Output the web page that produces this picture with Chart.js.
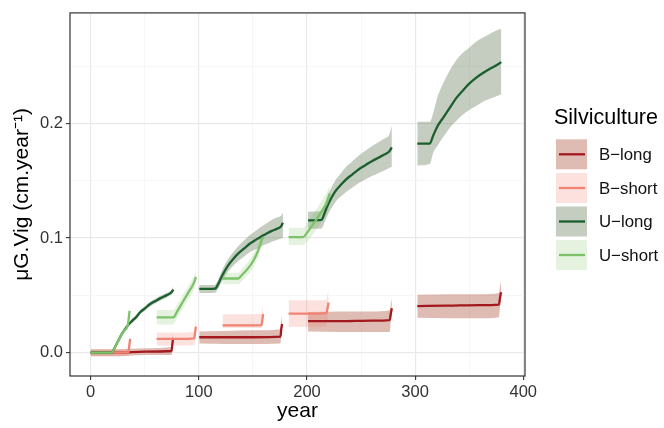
<!DOCTYPE html>
<html>
<head>
<meta charset="utf-8">
<script src="https://cdn.jsdelivr.net/npm/chart.js@4"></script>
<style>
html,body{margin:0;padding:0;background:#ffffff;}
#wrap{width:664px;height:428px;position:relative;}
canvas{display:block;}
</style>
</head>
<body>
<div id="wrap"><canvas id="c" width="664" height="428"></canvas></div>
<script>
// ---------------- DATA ----------------
const seriesNames = ['B\u2212long', 'B\u2212short', 'U\u2212long', 'U\u2212short'];

// B-long : null separates rotation segments
const bLongYear = [0, 25, 50, 74.8, 75.6, 76.3, null,
                   100.4, 125, 150, 175.5, 176.3, 177, null,
                   201, 230, 260, 276.5, 277.5, 278.5, null,
                   302, 330, 360, 377.5, 378.5, 379.5];
const bLongMid  = [0, 0, 0.001, 0.0015, 0.008, 0.013, null,
                   0.0135, 0.0135, 0.0135, 0.014, 0.021, 0.025, null,
                   0.0275, 0.0275, 0.028, 0.0285, 0.034, 0.0387, null,
                   0.0407, 0.041, 0.0415, 0.042, 0.048, 0.0528];
const bLongLo   = [-0.003, -0.003, -0.002, -0.002, 0.003, 0.008, null,
                   0.008, 0.0075, 0.0075, 0.008, 0.016, 0.020, null,
                   0.0185, 0.018, 0.018, 0.018, 0.027, 0.033, null,
                   0.0305, 0.030, 0.030, 0.031, 0.040, 0.046];
const bLongHi   = [0.003, 0.003, 0.004, 0.005, 0.013, 0.017, null,
                   0.0185, 0.019, 0.0195, 0.0205, 0.028, 0.033, null,
                   0.0355, 0.036, 0.036, 0.037, 0.043, 0.047, null,
                   0.0505, 0.051, 0.051, 0.052, 0.058, 0.0627];

// B-short
const bShortYear = [0, 20, 35, 35.8, 36.5, null,
                    61, 80, 95.8, 96.6, 97.3, null,
                    122, 140, 158, 158.8, 159.5, null,
                    183, 200, 218, 219, 220];
const bShortMid  = [0, 0, 0.0005, 0.007, 0.012, null,
                    0.012, 0.012, 0.0125, 0.018, 0.0227, null,
                    0.0238, 0.0238, 0.024, 0.029, 0.0337, null,
                    0.034, 0.034, 0.0345, 0.039, 0.0438];
const bShortLo   = [-0.003, -0.003, -0.003, 0.002, 0.007, null,
                    0.0063, 0.0063, 0.0065, 0.012, 0.017, null,
                    0.0215, 0.0215, 0.0215, 0.026, 0.030, null,
                    0.0224, 0.0224, 0.023, 0.028, 0.033];
const bShortHi   = [0.003, 0.003, 0.004, 0.012, 0.017, null,
                    0.0176, 0.0176, 0.018, 0.026, 0.0317, null,
                    0.0335, 0.0335, 0.034, 0.038, 0.043, null,
                    0.0458, 0.0458, 0.046, 0.051, 0.0556];

// U-long
const uLongYear = [0, 10, 19.5, 22, 25, 28, 31, 34.5, 38, 42, 46, 50, 55, 60, 65, 70, 74.5, 76.5, null,
                   100.4, 108, 115, 118, 122, 127, 132, 137, 142, 147, 152, 157, 162, 167, 172, 176, 177.8, null,
                   201, 213.5, 216, 218, 222, 226, 231, 236, 242, 248, 254, 260, 266, 272, 276, 278.5, null,
                   302, 313.5, 317, 321, 326, 332, 338, 344, 350, 356, 362, 368, 374, 379.7];
const uLongMid  = [0, 0, 0, 0.004, 0.0095, 0.015, 0.0195, 0.024, 0.0275, 0.031, 0.0355, 0.0385, 0.0425, 0.0452, 0.0478, 0.050, 0.0525, 0.055, null,
                   0.0556, 0.0556, 0.0558, 0.060, 0.068, 0.076, 0.082, 0.087, 0.091, 0.095, 0.098, 0.101, 0.1035, 0.106, 0.108, 0.110, 0.1134, null,
                   0.1154, 0.1158, 0.121, 0.126, 0.134, 0.1405, 0.146, 0.151, 0.1555, 0.160, 0.1635, 0.167, 0.170, 0.173, 0.1755, 0.179, null,
                   0.1824, 0.1824, 0.190, 0.198, 0.205, 0.2135, 0.222, 0.2285, 0.2346, 0.2395, 0.2435, 0.247, 0.250, 0.2534];
const uLongLo   = [0, 0, 0, 0.004, 0.0095, 0.015, 0.0195, 0.023, 0.0255, 0.029, 0.0335, 0.0365, 0.0405, 0.0432, 0.0458, 0.048, 0.0505, 0.052, null,
                   0.0521, 0.0521, 0.0523, 0.056, 0.063, 0.0705, 0.076, 0.0805, 0.084, 0.0875, 0.090, 0.0925, 0.0945, 0.0965, 0.0982, 0.0995, 0.100, null,
                   0.108, 0.1083, 0.113, 0.1175, 0.125, 0.131, 0.136, 0.140, 0.144, 0.148, 0.151, 0.154, 0.1565, 0.159, 0.161, 0.162, null,
                   0.1633, 0.1645, 0.175, 0.181, 0.188, 0.196, 0.202, 0.2075, 0.2117, 0.215, 0.2185, 0.221, 0.2232, 0.2253];
const uLongHi   = [0, 0, 0, 0.004, 0.0095, 0.015, 0.0195, 0.025, 0.0295, 0.033, 0.0375, 0.0405, 0.0445, 0.0472, 0.0498, 0.052, 0.0545, 0.058, null,
                   0.0591, 0.0591, 0.0593, 0.064, 0.073, 0.0815, 0.088, 0.0935, 0.098, 0.1025, 0.106, 0.1095, 0.1125, 0.1155, 0.1178, 0.1195, 0.122, null,
                   0.123, 0.1233, 0.129, 0.1345, 0.143, 0.150, 0.156, 0.162, 0.167, 0.172, 0.176, 0.180, 0.1835, 0.187, 0.190, 0.198, null,
                   0.2013, 0.2013, 0.210, 0.224, 0.235, 0.246, 0.255, 0.2615, 0.266, 0.271, 0.2745, 0.2775, 0.2805, 0.2825];

// U-short
const uShortYear = [0, 10, 19.5, 22, 25, 28, 31, 34.5, 35.3, 36, null,
                    61, 76.5, 80, 85, 90, 95, 96.5, 97.3, null,
                    122, 136.5, 140, 145, 149, 153, 156, 158, 159.5, null,
                    183, 196.5, 200, 205, 210, 215, 219, 221];
const uShortMid  = [0, 0, 0, 0.004, 0.0095, 0.015, 0.0195, 0.0245, 0.031, 0.0365, null,
                    0.0309, 0.0309, 0.036, 0.044, 0.052, 0.060, 0.0635, 0.066, null,
                    0.0647, 0.0647, 0.068, 0.073, 0.078, 0.085, 0.092, 0.098, 0.1008, null,
                    0.1008, 0.1008, 0.1045, 0.111, 0.118, 0.1255, 0.132, 0.1388];
const uShortLo   = [-0.002, -0.002, -0.002, 0.002, 0.0075, 0.013, 0.0175, 0.0225, 0.026, 0.031, null,
                    0.0247, 0.0247, 0.030, 0.038, 0.046, 0.054, 0.0575, 0.060, null,
                    0.0597, 0.0597, 0.0625, 0.0675, 0.072, 0.079, 0.086, 0.092, 0.095, null,
                    0.094, 0.094, 0.097, 0.1025, 0.109, 0.1165, 0.123, 0.130];
const uShortHi   = [0.002, 0.002, 0.002, 0.006, 0.0115, 0.017, 0.0215, 0.0265, 0.035, 0.040, null,
                    0.0373, 0.0373, 0.042, 0.050, 0.058, 0.066, 0.0695, 0.0725, null,
                    0.0697, 0.0697, 0.0735, 0.0785, 0.084, 0.091, 0.098, 0.104, 0.106, null,
                    0.109, 0.109, 0.113, 0.120, 0.127, 0.1345, 0.141, 0.146];

const xTickValues = [0, 50, 100, 150, 200, 250, 300, 350, 400];
const yTickValues = [0, 0.05, 0.1, 0.15, 0.2, 0.25];

// ---------------- STYLE ----------------
const FONT = "'Liberation Sans', Arial, Helvetica, sans-serif";
const lineColors   = ['#a3191f', '#f08373', '#1c5f2e', '#7cc26a'];
const ribbonColors = ['rgba(165,70,45,0.36)', 'rgba(240,110,95,0.2)', 'rgba(70,100,60,0.32)', 'rgba(120,190,95,0.2)'];

const seriesData = [
  {year: bLongYear,  mid: bLongMid,  lo: bLongLo,  hi: bLongHi},
  {year: bShortYear, mid: bShortMid, lo: bShortLo, hi: bShortHi},
  {year: uLongYear,  mid: uLongMid,  lo: uLongLo,  hi: uLongHi},
  {year: uShortYear, mid: uShortMid, lo: uShortLo, hi: uShortHi}
];

function splitSegments(s) {
  const segs = [];
  let cur = null;
  s.year.forEach((yr, i) => {
    if (yr === null) { cur = null; return; }
    if (!cur) { cur = {mid: [], lo: [], hi: []}; segs.push(cur); }
    cur.mid.push({x: yr, y: s.mid[i]});
    cur.lo.push({x: yr, y: s.lo[i]});
    cur.hi.push({x: yr, y: s.hi[i]});
  });
  return segs;
}

const datasets = [];
// ribbons first
seriesData.forEach((s, si) => {
  splitSegments(s).forEach(seg => {
    datasets.push({
      data: seg.lo, borderWidth: 0, borderColor: 'rgba(0,0,0,0)', pointRadius: 0,
      fill: false, cubicInterpolationMode: 'monotone', order: 100 - si * 10
    });
    datasets.push({
      data: seg.hi, borderWidth: 0, borderColor: 'rgba(0,0,0,0)', pointRadius: 0,
      fill: '-1', backgroundColor: ribbonColors[si], cubicInterpolationMode: 'monotone', order: 100 - si * 10
    });
  });
});
// lines
seriesData.forEach((s, si) => {
  splitSegments(s).forEach(seg => {
    datasets.push({
      data: seg.mid, borderWidth: 2.3, borderColor: lineColors[si], pointRadius: 0,
      fill: false, cubicInterpolationMode: 'monotone', order: 40 - si * 10,
      borderJoinStyle: 'round'
    });
  });
});

function near(a, b) { return Math.abs(a - b) < 1e-9; }
function isMajorX(v) { return near(v % 100, 0); }
function isMajorY(v) { return Math.abs(v * 10 - Math.round(v * 10)) < 1e-6; }

const panelBorder = {
  id: 'panelBorder',
  afterDatasetsDraw(chart) {
    const a = chart.chartArea, ctx = chart.ctx;
    ctx.save();
    ctx.strokeStyle = '#333333';
    ctx.lineWidth = 1.2;
    ctx.strokeRect(a.left, a.top, a.right - a.left, a.bottom - a.top);
    ctx.restore();
  }
};

const ggLegend = {
  id: 'ggLegend',
  afterDraw(chart) {
    const ctx = chart.ctx;
    ctx.save();
    ctx.fillStyle = '#000000';
    ctx.font = '21.5px ' + FONT;
    ctx.textBaseline = 'middle';
    ctx.textAlign = 'left';
    ctx.fillText('Silviculture', 554, 118);
    const centers = [154.3, 188, 221.5, 255];
    seriesNames.forEach((name, i) => {
      const cy = centers[i];
      ctx.fillStyle = '#ffffff';
      ctx.fillRect(556, cy - 15, 31, 30);
      ctx.fillStyle = ribbonColors[i];
      ctx.fillRect(556, cy - 15, 31, 30);
      ctx.strokeStyle = lineColors[i];
      ctx.lineWidth = 2.3;
      ctx.beginPath();
      ctx.moveTo(559, cy);
      ctx.lineTo(585, cy);
      ctx.stroke();
      ctx.fillStyle = '#111111';
      ctx.font = '16.8px ' + FONT;
      ctx.fillText(name, 599, cy + 1);
    });
    ctx.restore();
  }
};

new Chart(document.getElementById('c'), {
  type: 'line',
  data: {datasets},
  options: {
    responsive: false,
    animation: false,
    events: [],
    parsing: true,
    layout: {padding: {left: 0, right: 139, top: 2, bottom: 0}},
    plugins: {legend: {display: false}, tooltip: {enabled: false}, title: {display: false}},
    elements: {line: {tension: 0}},
    scales: {
      x: {
        type: 'linear', min: -19.1, max: 401.6,
        afterBuildTicks: s => { s.ticks = xTickValues.map(v => ({value: v})); },
        afterFit: s => { s.height = 52; },
        border: {display: false},
        grid: {
          color: c => (c.tick && isMajorX(c.tick.value)) ? '#e9e9e9' : '#f4f4f4',
          lineWidth: c => (c.tick && isMajorX(c.tick.value)) ? 1.2 : 0.8,
          tickColor: c => (c.tick && isMajorX(c.tick.value)) ? '#333333' : 'rgba(0,0,0,0)',
          tickLength: 4, tickWidth: 1.1, drawTicks: true
        },
        ticks: {
          autoSkip: false, maxRotation: 0, padding: 3, color: '#333333',
          font: {family: FONT, size: 16.5},
          callback: v => isMajorX(v) ? String(v) : ''
        },
        title: {display: true, text: 'year', color: '#000000', font: {family: FONT, size: 21},
                padding: {top: 0, bottom: 4}}
      },
      y: {
        type: 'linear', min: -0.0203, max: 0.2963,
        afterBuildTicks: s => { s.ticks = yTickValues.map(v => ({value: v})); },
        afterFit: s => { s.width = 70; },
        border: {display: false},
        grid: {
          color: c => (c.tick && isMajorY(c.tick.value)) ? '#e9e9e9' : '#f4f4f4',
          lineWidth: c => (c.tick && isMajorY(c.tick.value)) ? 1.2 : 0.8,
          tickColor: c => (c.tick && isMajorY(c.tick.value)) ? '#333333' : 'rgba(0,0,0,0)',
          tickLength: 4, tickWidth: 1.1, drawTicks: true
        },
        ticks: {
          autoSkip: false, padding: 3, color: '#333333',
          font: {family: FONT, size: 16.5},
          callback: v => isMajorY(v) ? v.toFixed(1) : ''
        },
        title: {display: true, text: '\u03bcG.Vig (cm.year\u207b\u00b9)', color: '#000000',
                font: {family: FONT, size: 21}, padding: {top: 10, bottom: 0}}
      }
    }
  },
  plugins: [panelBorder, ggLegend]
});
</script>
</body>
</html>
